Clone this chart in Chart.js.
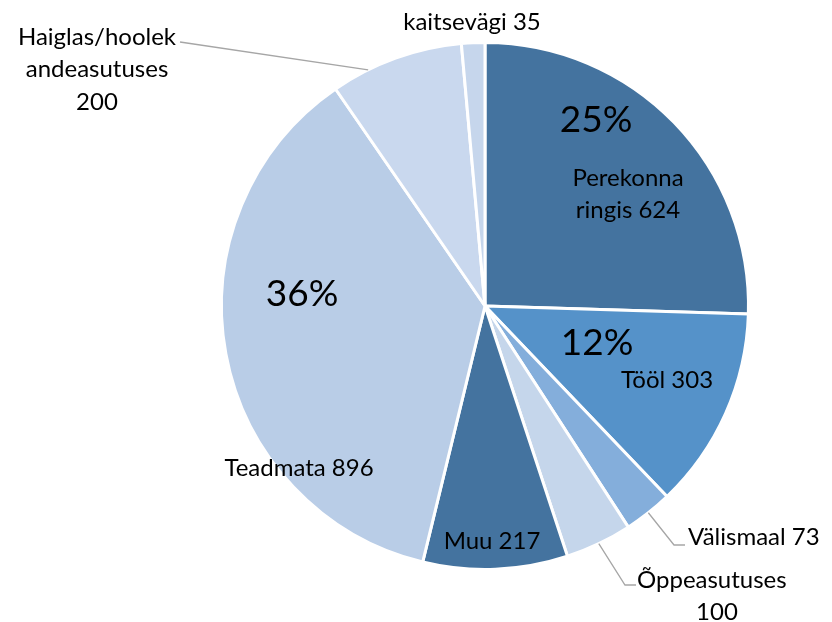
<!DOCTYPE html>
<html>
<head>
<meta charset="utf-8">
<script src="https://cdn.jsdelivr.net/npm/chart.js@4"></script>
<style>
  html, body { margin: 0; padding: 0; background: #fff; }
  #wrap { width: 832px; height: 622px; }
</style>
</head>
<body>
<div id="wrap"><canvas id="c" width="832" height="622"></canvas></div>
<script>
const categories = [
  "Perekonna ringis", "Tööl", "Välismaal", "Õppeasutuses",
  "Muu", "Teadmata", "Haiglas/hoolekandeasutuses", "kaitsevägi"
];
const values = [624, 303, 73, 100, 217, 896, 200, 35];
const percentLabels = ["25%", "12%", null, null, null, "36%", null, null];
const sliceColors = [
  "#44739f", "#5592c9", "#84aedb", "#c5d6eb",
  "#44739f", "#b9cde7", "#c9d8ee", "#c6d6ec"
];

// label placement (text lines, positions, optional leader)
const labelLayout = [
  { lines: ["Perekonna", "ringis 624"], x: 628, y: 178, pct: { x: 596, y: 120 } },
  { lines: ["Tööl 303"], x: 667, y: 380, pct: { x: 597, y: 343 } },
  { lines: ["Välismaal 73"], x: 688, y: 537, align: "left",
    leader: { t: 0.5, bend: [674, 545], end: [685, 545] } },
  { lines: ["Õppeasutuses", "100"], x: 717, y: 580, firstLeft: 637,
    leader: { t: 0.5, bend: [625, 585], end: [636, 585] } },
  { lines: ["Muu 217"], x: 492, y: 541 },
  { lines: ["Teadmata 896"], x: 299, y: 468, pct: { x: 302, y: 294 } },
  { lines: ["Haiglas/hoolek", "andeasutuses", "200"], x: 97, y: 37,
    leader: { t: 0.28, bend: [180, 42], end: [180, 42] } },
  { lines: ["kaitsevägi 35"], x: 472, y: 22 }
];

const labelPlugin = {
  id: "sliceLabels",
  afterDatasetsDraw(chart) {
    const ctx = chart.ctx;
    const arcs = chart.getDatasetMeta(0).data;
    ctx.save();
    arcs.forEach((arc, i) => {
      const lay = labelLayout[i];
      const p = arc.getProps(["x", "y", "startAngle", "endAngle", "outerRadius"], true);
      if (lay.leader) {
        const a = p.startAngle + (p.endAngle - p.startAngle) * lay.leader.t;
        ctx.strokeStyle = "#a6a6a6";
        ctx.lineWidth = 1.3;
        ctx.beginPath();
        ctx.moveTo(p.x + Math.cos(a) * p.outerRadius, p.y + Math.sin(a) * p.outerRadius);
        ctx.lineTo(lay.leader.bend[0], lay.leader.bend[1]);
        ctx.lineTo(lay.leader.end[0], lay.leader.end[1]);
        ctx.stroke();
      }
      ctx.fillStyle = "#000";
      ctx.textBaseline = "middle";
      ctx.font = "24px Lato";
      lay.lines.forEach((line, k) => {
        const y = lay.y + k * 32.5;
        if (lay.align === "left") {
          ctx.textAlign = "left";
          ctx.fillText(line, lay.x, y);
        } else if (lay.firstLeft && k === 0) {
          ctx.textAlign = "left";
          ctx.fillText(line, lay.firstLeft, y);
        } else {
          ctx.textAlign = "center";
          ctx.fillText(line, lay.x, y);
        }
      });
      if (percentLabels[i] && lay.pct) {
        ctx.font = "37px Lato";
        ctx.textAlign = "center";
        ctx.fillText(percentLabels[i], lay.pct.x, lay.pct.y);
      }
    });
    ctx.restore();
  }
};

new Chart(document.getElementById("c"), {
  type: "pie",
  data: {
    labels: categories,
    datasets: [{
      data: values,
      backgroundColor: sliceColors,
      borderColor: "#ffffff",
      borderWidth: 3
    }]
  },
  options: {
    responsive: false,
    animation: false,
    layout: { padding: { top: 41, bottom: 51, left: 138, right: 0 } },
    plugins: {
      legend: { display: false },
      tooltip: { enabled: false }
    }
  },
  plugins: [labelPlugin]
});
</script>
</body>
</html>
